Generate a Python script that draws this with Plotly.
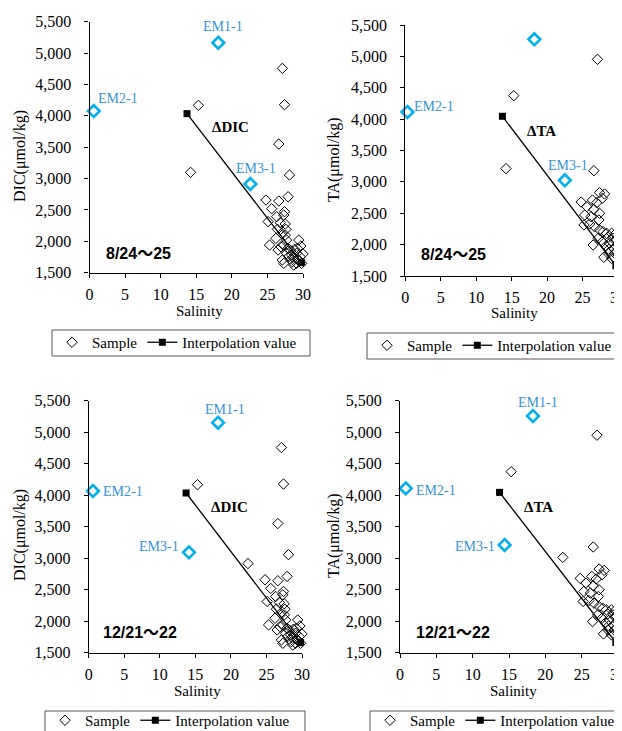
import plotly.graph_objects as go

# page offset of the figure inside the page (default body margin)
OFF = 8
W, H = 622 - OFF, 731 - OFF

# ---------------- data ----------------
salinity_ticks = [0, 5, 10, 15, 20, 25, 30]
conc_ticks = [1500, 2000, 2500, 3000, 3500, 4000, 4500, 5000, 5500]

dic_common_sal = [15.3, 27.1, 27.4, 26.6, 28.1, 27.9, 24.8, 26.6, 25.6, 27.4, 27.3, 26.3, 25.1, 26.8,
                  27.5, 26.4, 27.6, 27.0, 26.2, 25.3, 27.3, 26.9, 26.5, 27.7, 29.4, 29.7, 30.0, 27.1,
                  27.3, 28.7, 28.0, 28.4, 28.7, 29.1, 29.3, 28.5, 29.1, 29.6, 28.3, 28.8, 27.9, 29.2,
                  29.8, 27.7, 27.5]
dic_common_val = [4167, 4756, 4177, 3550, 3056, 2711, 2658, 2642, 2520, 2472, 2419, 2392, 2313, 2297,
                  2276, 2191, 2191, 2127, 2047, 1941, 1941, 1914, 1861, 1808, 2020, 1925, 1798, 1702,
                  1649, 1622, 1755, 1782, 1729, 1808, 1702, 1675, 1649, 1755, 1851, 1872, 1888, 1888,
                  1649, 2020, 2100]
dic_aug_extra_sal = [14.2]
dic_aug_extra_val = [3099]
dic_dec_extra_sal = [22.4]
dic_dec_extra_val = [2915]

ta_common_sal = [15.3, 27.1, 26.6, 24.8, 26.4, 27.4, 28.1, 27.8, 27.0, 25.6, 26.6, 27.4, 25.3, 26.2,
                 27.3, 25.2, 26.0, 26.7, 27.4, 27.9, 28.4, 29.1, 29.7, 28.6, 29.3, 26.5, 27.2, 27.8,
                 28.3, 28.8, 29.4, 30.0, 28.0, 28.6, 29.1, 29.5, 30.0, 28.7, 29.8]
ta_common_val = [4374, 4953, 3178, 2679, 2711, 2828, 2807, 2738, 2669, 2605, 2562, 2499, 2472, 2446,
                 2393, 2313, 2329, 2286, 2233, 2207, 2180, 2180, 2180, 2116, 2100, 1994, 2100, 2047,
                 1978, 2020, 1941, 1994, 1798, 1861, 1782, 1861, 1835, 1925, 2074]
ta_aug_extra_sal = [14.2]
ta_aug_extra_val = [3211]
ta_dec_extra_sal = [22.4]
ta_dec_extra_val = [3013]

interp_dic_sal = [13.7, 29.8]
interp_dic_val = [4035, 1660]
interp_ta_sal = [13.7, 29.7]
interp_ta_val = [4045, 1662]

em_names = ["EM1-1", "EM2-1", "EM3-1"]
em_dic_aug_sal = [18.1, 0.6, 22.6]
em_dic_aug_val = [5165, 4076, 2913]
em_ta_aug_sal = [18.2, 0.3, 22.5]
em_ta_aug_val = [5272, 4114, 3025]
em_dic_dec_sal = [18.2, 0.6, 14.1]
em_dic_dec_val = [5151, 4066, 3093]
em_ta_dec_sal = [18.3, 0.8, 14.4]
em_ta_dec_val = [5257, 4108, 3209]

# label positions (salinity, value)
em_lab_dic_aug = [(18.75, 5430), (4.0, 4273), (23.35, 3163)]
em_lab_ta_aug = [(18.8, 5510), (4.0, 4209), (22.96, 3269)]
em_lab_dic_dec = [(19.2, 5362), (4.8, 4066), (9.9, 3185)]
em_lab_ta_dec = [(19.05, 5468), (4.9, 4082), (10.3, 3183)]

period_labels = ["8/24～25", "8/24～25", "12/21～22", "12/21～22"]
delta_labels = ["ΔDIC", "ΔTA", "ΔDIC", "ΔTA"]
ytitles = ["DIC(μmol/kg)", "TA(μmol/kg)", "DIC(μmol/kg)", "TA(μmol/kg)"]

# ---------------- layout geometry (page pixels) ----------------
panels = [
    dict(x0=89.5, x1=303, y0=21.7, y1=272.7,
         s_sal=dic_common_sal + dic_aug_extra_sal, s_val=dic_common_val + dic_aug_extra_val,
         i_sal=interp_dic_sal, i_val=interp_dic_val,
         e_sal=em_dic_aug_sal, e_val=em_dic_aug_val, e_lab=em_lab_dic_aug,
         delta=(19.8, 3816), period=(6.9, 1808),
         ytitle=(20, 156), xtitle=(199, 311), legend=(52, 326), box=(52, 330, 310, 356)),
    dict(x0=405.3, x1=618, y0=25, y1=276,
         s_sal=ta_common_sal + ta_aug_extra_sal, s_val=ta_common_val + ta_aug_extra_val,
         i_sal=interp_ta_sal, i_val=interp_ta_val,
         e_sal=em_ta_aug_sal, e_val=em_ta_aug_val, e_lab=em_lab_ta_aug,
         delta=(19.2, 3816), period=(6.85, 1835),
         ytitle=(334, 160), xtitle=(514, 313), legend=(367, 329), box=(367, 333, 640, 359)),
    dict(x0=88.7, x1=302, y0=400.7, y1=652.7,
         s_sal=dic_common_sal + dic_dec_extra_sal, s_val=dic_common_val + dic_dec_extra_val,
         i_sal=interp_dic_sal, i_val=interp_dic_val,
         e_sal=em_dic_dec_sal, e_val=em_dic_dec_val, e_lab=em_lab_dic_dec,
         delta=(19.8, 3807), period=(7.2, 1823),
         ytitle=(20, 535), xtitle=(197, 691), legend=(45, 704), box=(45, 711, 305, 745)),
    dict(x0=400, x1=618, y0=400.7, y1=652.7,
         s_sal=ta_common_sal + ta_dec_extra_sal, s_val=ta_common_val + ta_dec_extra_val,
         i_sal=interp_ta_sal, i_val=interp_ta_val,
         e_sal=em_ta_dec_sal, e_val=em_ta_dec_val, e_lab=em_lab_ta_dec,
         delta=(19.0, 3807), period=(7.3, 1823),
         ytitle=(334, 536), xtitle=(513, 691), legend=(370, 704), box=(370, 711, 640, 745)),
]


def fx(px):
    return (px - OFF) / W


def fy(py):
    return 1 - (py - OFF) / H


SERIF = "Liberation Serif, Times New Roman, serif"
EM_MARK = "#00B0F0"
EM_TEXT = "#3494D8"

fig = go.Figure()
layout = dict(width=W, height=H, margin=dict(l=0, r=0, t=0, b=0, autoexpand=False),
              paper_bgcolor="white", plot_bgcolor="white",
              font=dict(family=SERIF, size=14, color="black"),
              annotations=[], shapes=[], showlegend=True)

for k, p in enumerate(panels):
    n = k + 1
    xa = "x" if n == 1 else f"x{n}"
    ya = "y" if n == 1 else f"y{n}"
    lg = "legend" if n == 1 else f"legend{n}"
    xkey = "xaxis" if n == 1 else f"xaxis{n}"
    ykey = "yaxis" if n == 1 else f"yaxis{n}"

    fig.add_trace(go.Scatter(x=p["s_sal"], y=p["s_val"], mode="markers", name="Sample",
                             marker=dict(symbol="diamond-open", size=8, color="black",
                                         line=dict(width=1, color="black")),
                             xaxis=xa, yaxis=ya, legend=lg, cliponaxis=False))
    fig.add_trace(go.Scatter(x=p["i_sal"], y=p["i_val"], mode="lines+markers",
                             name="Interpolation value",
                             line=dict(color="black", width=1.3),
                             marker=dict(symbol="square", size=7, color="black"),
                             xaxis=xa, yaxis=ya, legend=lg, cliponaxis=False))
    fig.add_trace(go.Scatter(x=p["e_sal"], y=p["e_val"], mode="markers", name="End member",
                             marker=dict(symbol="diamond-open", size=9, color=EM_MARK,
                                         line=dict(width=2.6, color=EM_MARK)),
                             xaxis=xa, yaxis=ya, showlegend=False, cliponaxis=False))

    layout[xkey] = dict(domain=[fx(p["x0"]), fx(p["x1"])], range=[0, 30], anchor=ya,
                        tickvals=salinity_ticks, showline=True, linecolor="black", linewidth=1.2,
                        ticks="outside", ticklen=4, tickcolor="black", showgrid=False,
                        zeroline=False, ticklabelstandoff=3, ticklabeloverflow="allow",
                        tickfont=dict(family=SERIF, size=16, color="black"))
    layout[ykey] = dict(domain=[fy(p["y1"]), fy(p["y0"])], range=[1500, 5500], anchor=xa,
                        tickvals=conc_ticks, tickformat=",", showline=True, linecolor="black",
                        linewidth=1.2, ticks="outside", ticklen=4, tickcolor="black",
                        showgrid=False, zeroline=False, ticklabelstandoff=10,
                        ticklabeloverflow="allow",
                        tickfont=dict(family=SERIF, size=16, color="black"))
    layout[lg] = dict(x=fx(p["legend"][0]), y=fy(p["legend"][1]), xanchor="left",
                      yanchor="top", orientation="h", borderwidth=0,
                      bgcolor="rgba(0,0,0,0)", font=dict(family=SERIF, size=15, color="black"),
                      itemwidth=30)
    bx0, by0, bx1, by1 = p["box"]
    layout["shapes"].append(dict(type="rect", xref="paper", yref="paper",
                                 x0=fx(bx0), x1=fx(bx1), y0=fy(by1), y1=fy(by0),
                                 line=dict(color="#555555", width=1), layer="below"))

    # endmember labels
    for name, (lx, ly) in zip(em_names, p["e_lab"]):
        layout["annotations"].append(dict(x=lx, y=ly, xref=xa, yref=ya, text=name,
                                          showarrow=False, xanchor="center", yanchor="middle",
                                          font=dict(family=SERIF, size=14, color=EM_TEXT)))
    layout["annotations"].append(dict(x=p["delta"][0], y=p["delta"][1], xref=xa, yref=ya,
                                      text="<b>" + delta_labels[k] + "</b>", showarrow=False,
                                      xanchor="center", yanchor="middle",
                                      font=dict(family=SERIF, size=15, color="black")))
    layout["annotations"].append(dict(x=p["period"][0], y=p["period"][1], xref=xa, yref=ya,
                                      text="<b>" + period_labels[k] + "</b>", showarrow=False,
                                      xanchor="center", yanchor="middle",
                                      font=dict(family="Liberation Sans, Noto Sans CJK JP, sans-serif",
                                                size=16, color="black")))
    layout["annotations"].append(dict(x=fx(p["ytitle"][0]), y=fy(p["ytitle"][1]),
                                      xref="paper", yref="paper", text=ytitles[k],
                                      textangle=-90, showarrow=False,
                                      xanchor="center", yanchor="middle",
                                      font=dict(family=SERIF, size=16, color="black")))
    layout["annotations"].append(dict(x=fx(p["xtitle"][0]), y=fy(p["xtitle"][1]),
                                      xref="paper", yref="paper", text="Salinity",
                                      showarrow=False, xanchor="center", yanchor="middle",
                                      font=dict(family=SERIF, size=15, color="black")))

fig.update_layout(**layout)
fig.write_html("out.html")
